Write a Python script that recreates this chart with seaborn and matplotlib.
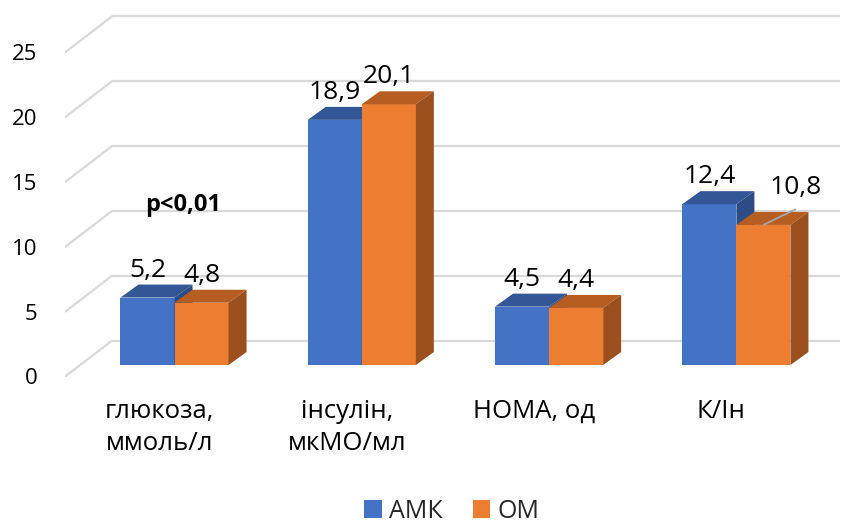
import matplotlib
matplotlib.use("Agg")
import matplotlib.pyplot as plt
from matplotlib.patches import Polygon
from matplotlib.transforms import ScaledTranslation
import seaborn as sns
import pandas as pd

# Indicators and group values
categories = ["глюкоза,\nммоль/л", "інсулін,\nмкМО/мл", "НОМА, од", "К/Ін"]
amk_values = [5.2, 18.9, 4.5, 12.4]
om_values = [4.8, 20.1, 4.4, 10.8]
groups = ["АМК", "ОМ"]
value_labels_amk = ["5,2", "18,9", "4,5", "12,4"]
value_labels_om = ["4,8", "20,1", "4,4", "10,8"]
y_ticks = [0, 5, 10, 15, 20, 25]

df = pd.DataFrame({
    "category": categories * 2,
    "value": amk_values + om_values,
    "group": [groups[0]] * 4 + [groups[1]] * 4,
})

sns.set_theme(style="white")
plt.rcParams["font.family"] = ["Open Sans", "DejaVu Sans"]

front = {"АМК": "#4472C4", "ОМ": "#ED7D31"}
top = {"АМК": "#335796", "ОМ": "#B65E22"}
side = {"АМК": "#2D4C85", "ОМ": "#9B4F1D"}

fig = plt.figure(figsize=(8.49, 5.22), dpi=100)
W, H = 849, 522
px_left, px_right, px_top, px_bottom = 65, 840, 10, 377
ax = fig.add_axes([px_left / W, 1 - px_bottom / H,
                   (px_right - px_left) / W, (px_bottom - px_top) / H])

bar_width = 0.577
sns.barplot(data=df, x="category", y="value", hue="group", order=categories,
            hue_order=groups, palette=front, width=bar_width, dodge=True,
            saturation=1, linewidth=0, ax=ax, zorder=3)

# scale: 187.3 px per category, 12.97 px per unit
xpx, ypx = 187.3, 12.97
x0 = -(174.5 - px_left) / xpx
x1 = (px_right - 174.5) / xpx
y0 = -(px_bottom - 365) / ypx
y1 = (365 - px_top) / ypx
ax.set_xlim(x0, x1)
ax.set_ylim(y0, y1)

# depth of the bars and of the back wall
bdx, bdy = 18 / xpx, 13 / ypx
wall_x = (112 - 174.5) / xpx
wall_dy = 1.88
floor_dy = -0.9

# back wall grid with the receding edges
for v in y_ticks:
    ax.plot([wall_x, x1], [v + wall_dy, v + wall_dy], color="#D9D9D9",
            lw=1.6, zorder=1, solid_capstyle="butt")
    ax.plot([x0, wall_x], [v + floor_dy, v + wall_dy], color="#D9D9D9",
            lw=1.6, zorder=1)

# top and side faces of each bar
half = bar_width / 2
for gi, (g, vals) in enumerate(zip(groups, [amk_values, om_values])):
    for ci, v in enumerate(vals):
        xl = ci - half + gi * half
        xr = xl + half
        z = 4 + gi * 2
        ax.add_patch(Polygon([(xl, v), (xr, v), (xr + bdx, v + bdy), (xl + bdx, v + bdy)],
                             closed=True, facecolor=top[g], edgecolor="none", zorder=z))
        ax.add_patch(Polygon([(xr, 0), (xr, v), (xr + bdx, v + bdy), (xr + bdx, bdy)],
                             closed=True, facecolor=side[g], edgecolor="none", zorder=z))

# front faces of the second group cover the sides of the first
for bar in ax.containers[1]:
    bar.set_zorder(5)

# value labels
for ci in range(4):
    xa = ci - half / 2
    ax.text(xa, amk_values[ci] + bdy + 1.12, value_labels_amk[ci], ha="center",
            va="center", fontsize=19, color="black", zorder=10)
    xo = ci + half / 2
    if ci == 3:
        lx, ly = xo + 32 / xpx, om_values[ci] + 2.85
        ax.plot([xo, lx], [om_values[ci], ly - 1.65], color="#A6A6A6", lw=1.3, zorder=9)
        ax.text(lx, ly, value_labels_om[ci], ha="center", va="center",
                fontsize=19, color="black", zorder=10)
    else:
        ax.text(xo, om_values[ci] + bdy + 1.12, value_labels_om[ci], ha="center",
                va="center", fontsize=19, color="black", zorder=10)

ax.text(0.045, 12.34, "p<0,01", ha="center", va="center", fontsize=17,
        fontweight="bold", color="black", zorder=10)

# axes: ticks on the front edge of the floor
ax.set_yticks(y_ticks)
ax.set_yticklabels([str(t) for t in y_ticks])
ax.tick_params(axis="y", length=0, pad=20, labelsize=16, labelcolor="black")
ax.tick_params(axis="x", length=0, pad=16, labelsize=18.5, labelcolor="black")
ax.set_xlabel("")
ax.set_ylabel("")
for s in ax.spines.values():
    s.set_visible(False)
ax.grid(False)
ax.set_xticks(range(4))
ax.set_xticklabels(categories, linespacing=1.35, va="top")
for lab in ax.get_yticklabels():
    lab.set_transform(lab.get_transform() + ScaledTranslation(0, -11.5 / 100, fig.dpi_scale_trans))
for lab in ax.get_xticklabels():
    lab.set_transform(lab.get_transform() + ScaledTranslation(-15 / 100, 0, fig.dpi_scale_trans))

sns.move_legend(ax, "center", bbox_to_anchor=(452 / W, 1 - 511 / H),
                bbox_transform=fig.transFigure, ncol=2, frameon=False, title=None,
                fontsize=18, handlelength=0.7, handleheight=0.7,
                handletextpad=0.3, columnspacing=1.2)

fig.savefig("out.png", dpi=100)
